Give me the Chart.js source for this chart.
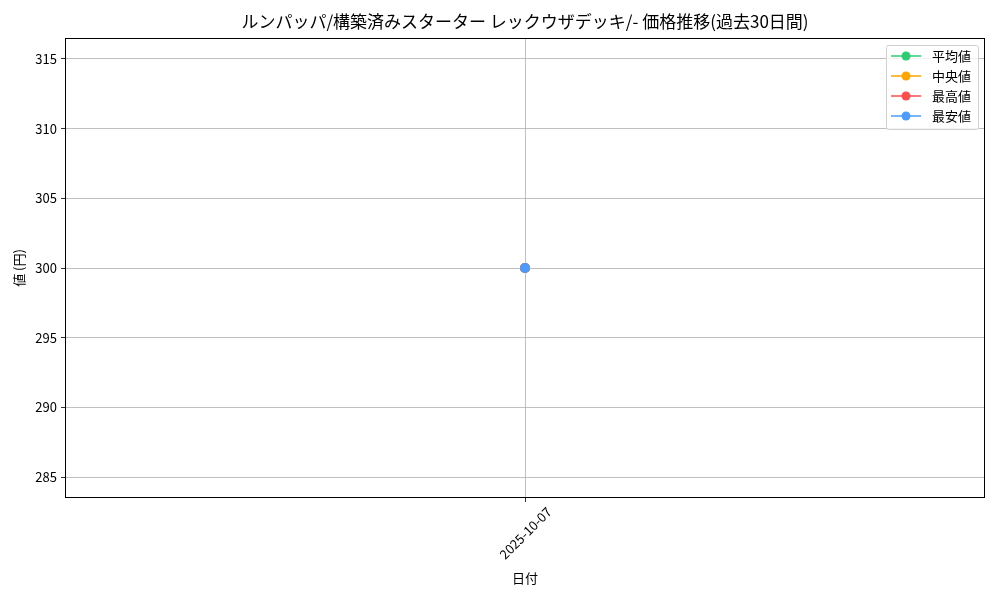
<!DOCTYPE html>
<html>
<head>
<meta charset="utf-8">
<script src="https://cdn.jsdelivr.net/npm/chart.js@4"></script>
<style>
  html, body { margin: 0; padding: 0; background: #fff; }
  #wrap { width: 1000px; height: 600px; }
</style>
</head>
<body>
<div id="wrap"><canvas id="chart_price"></canvas></div>
<script>
// DATA
var chartTitle = 'ルンパッパ/構築済みスターター レックウザデッキ/- 価格推移(過去30日間)';
var dates = ['2025-10-07'];
var avgPrices = [300];
var medianPrices = [300];
var maxPrices = [300];
var minPrices = [300];
var yTicks = [285, 290, 295, 300, 305, 310, 315];
var yMin = 283.5;
var yMax = 316.5;

var FONT = "'Noto Sans CJK JP', 'DejaVu Sans', sans-serif";

function makeSet(_label, _data, _color, _order) {
    return {
        label: _label,
        data: _data,
        borderColor: _color,
        backgroundColor: _color,
        borderWidth: 1.5,
        pointRadius: 5,
        pointHoverRadius: 5,
        pointBorderWidth: 0,
        fill: false,
        order: _order, // lower order is drawn on top
    };
}

// draws frame, title and matplotlib-like legend
var decorPlugin = {
    id: 'decor',
    afterDraw: (chart) => {
        let ctx = chart.ctx;
        let a = chart.chartArea;
        ctx.save();

        // frame
        ctx.strokeStyle = '#000';
        ctx.lineWidth = 1;
        ctx.strokeRect(a.left + 0.5, a.top + 0.5, a.right - a.left - 1, a.bottom - a.top - 1);

        // title
        ctx.fillStyle = '#000';
        ctx.font = '17px ' + FONT;
        ctx.textAlign = 'center';
        ctx.textBaseline = 'middle';
        ctx.fillText(chartTitle, (a.left + a.right) / 2, 22);

        // legend
        let sets = chart.data.datasets;
        let bx = 886, by = 45, bw = 92, bh = 84;
        ctx.fillStyle = 'rgba(255,255,255,0.8)';
        ctx.strokeStyle = '#d0d0d0';
        ctx.lineWidth = 1;
        ctx.beginPath();
        ctx.roundRect(bx + 0.5, by + 0.5, bw, bh, 2);
        ctx.fill();
        ctx.stroke();
        ctx.font = '13px ' + FONT;
        ctx.textAlign = 'left';
        for (let i = 0; i < sets.length; i++) {
            let ly = by + 11 + i * 20;
            ctx.strokeStyle = sets[i].borderColor;
            ctx.lineWidth = 1.5;
            ctx.beginPath();
            ctx.moveTo(bx + 5, ly);
            ctx.lineTo(bx + 35, ly);
            ctx.stroke();
            ctx.fillStyle = sets[i].borderColor;
            ctx.beginPath();
            ctx.arc(bx + 20, ly, 4.5, 0, Math.PI * 2);
            ctx.fill();
            ctx.fillStyle = '#000';
            ctx.fillText(sets[i].label, bx + 46, ly);
        }
        ctx.restore();
    }
};

function drawChart_price() {
    new Chart(document.getElementById('chart_price').getContext('2d'), {
        type: 'line',
        data: {
            labels: dates,
            datasets: [
                makeSet('平均値', avgPrices, '#2ecc71', 3),
                makeSet('中央値', medianPrices, '#ffa500', 2),
                makeSet('最高値', maxPrices, '#ff4d4d', 1),
                makeSet('最安値', minPrices, '#4d9bff', 0),
            ],
        },
        plugins: [decorPlugin],
        options: {
            responsive: true,
            maintainAspectRatio: false,
            animation: false,
            events: [],
            layout: { padding: { top: 38, right: 15, left: 0, bottom: 0 } },
            plugins: {
                legend: { display: false },
                title: { display: false },
                tooltip: { enabled: false },
            },
            scales: {
                x: {
                    type: 'category',
                    offset: true,
                    afterFit: (s) => { s.height = 102; },
                    grid: {
                        offset: false,
                        color: '#b0b0b0',
                        lineWidth: 0.8,
                        tickColor: '#000',
                        tickLength: 4,
                    },
                    border: { display: false },
                    ticks: {
                        color: '#000',
                        font: { family: FONT, size: 13 },
                        minRotation: 45,
                        maxRotation: 45,
                        padding: 2,
                        labelOffset: 24,
                    },
                    title: {
                        display: true,
                        text: '日付',
                        color: '#000',
                        font: { family: FONT, size: 13 },
                        padding: { top: 0, bottom: 14 },
                    },
                },
                y: {
                    min: yMin,
                    max: yMax,
                    afterFit: (s) => { s.width = 65; },
                    afterBuildTicks: (s) => {
                        s.ticks = yTicks.map((v) => ({ value: v }));
                    },
                    grid: {
                        color: '#b0b0b0',
                        lineWidth: 0.8,
                        tickColor: '#000',
                        tickLength: 4,
                    },
                    border: { display: false },
                    ticks: {
                        color: '#000',
                        font: { family: FONT, size: 13 },
                        padding: 4,
                    },
                    title: {
                        display: true,
                        text: '値 (円)',
                        color: '#000',
                        font: { family: FONT, size: 13 },
                        padding: { top: 11, bottom: 0 },
                    },
                },
            },
        },
    });
}

drawChart_price();
</script>
</body>
</html>
